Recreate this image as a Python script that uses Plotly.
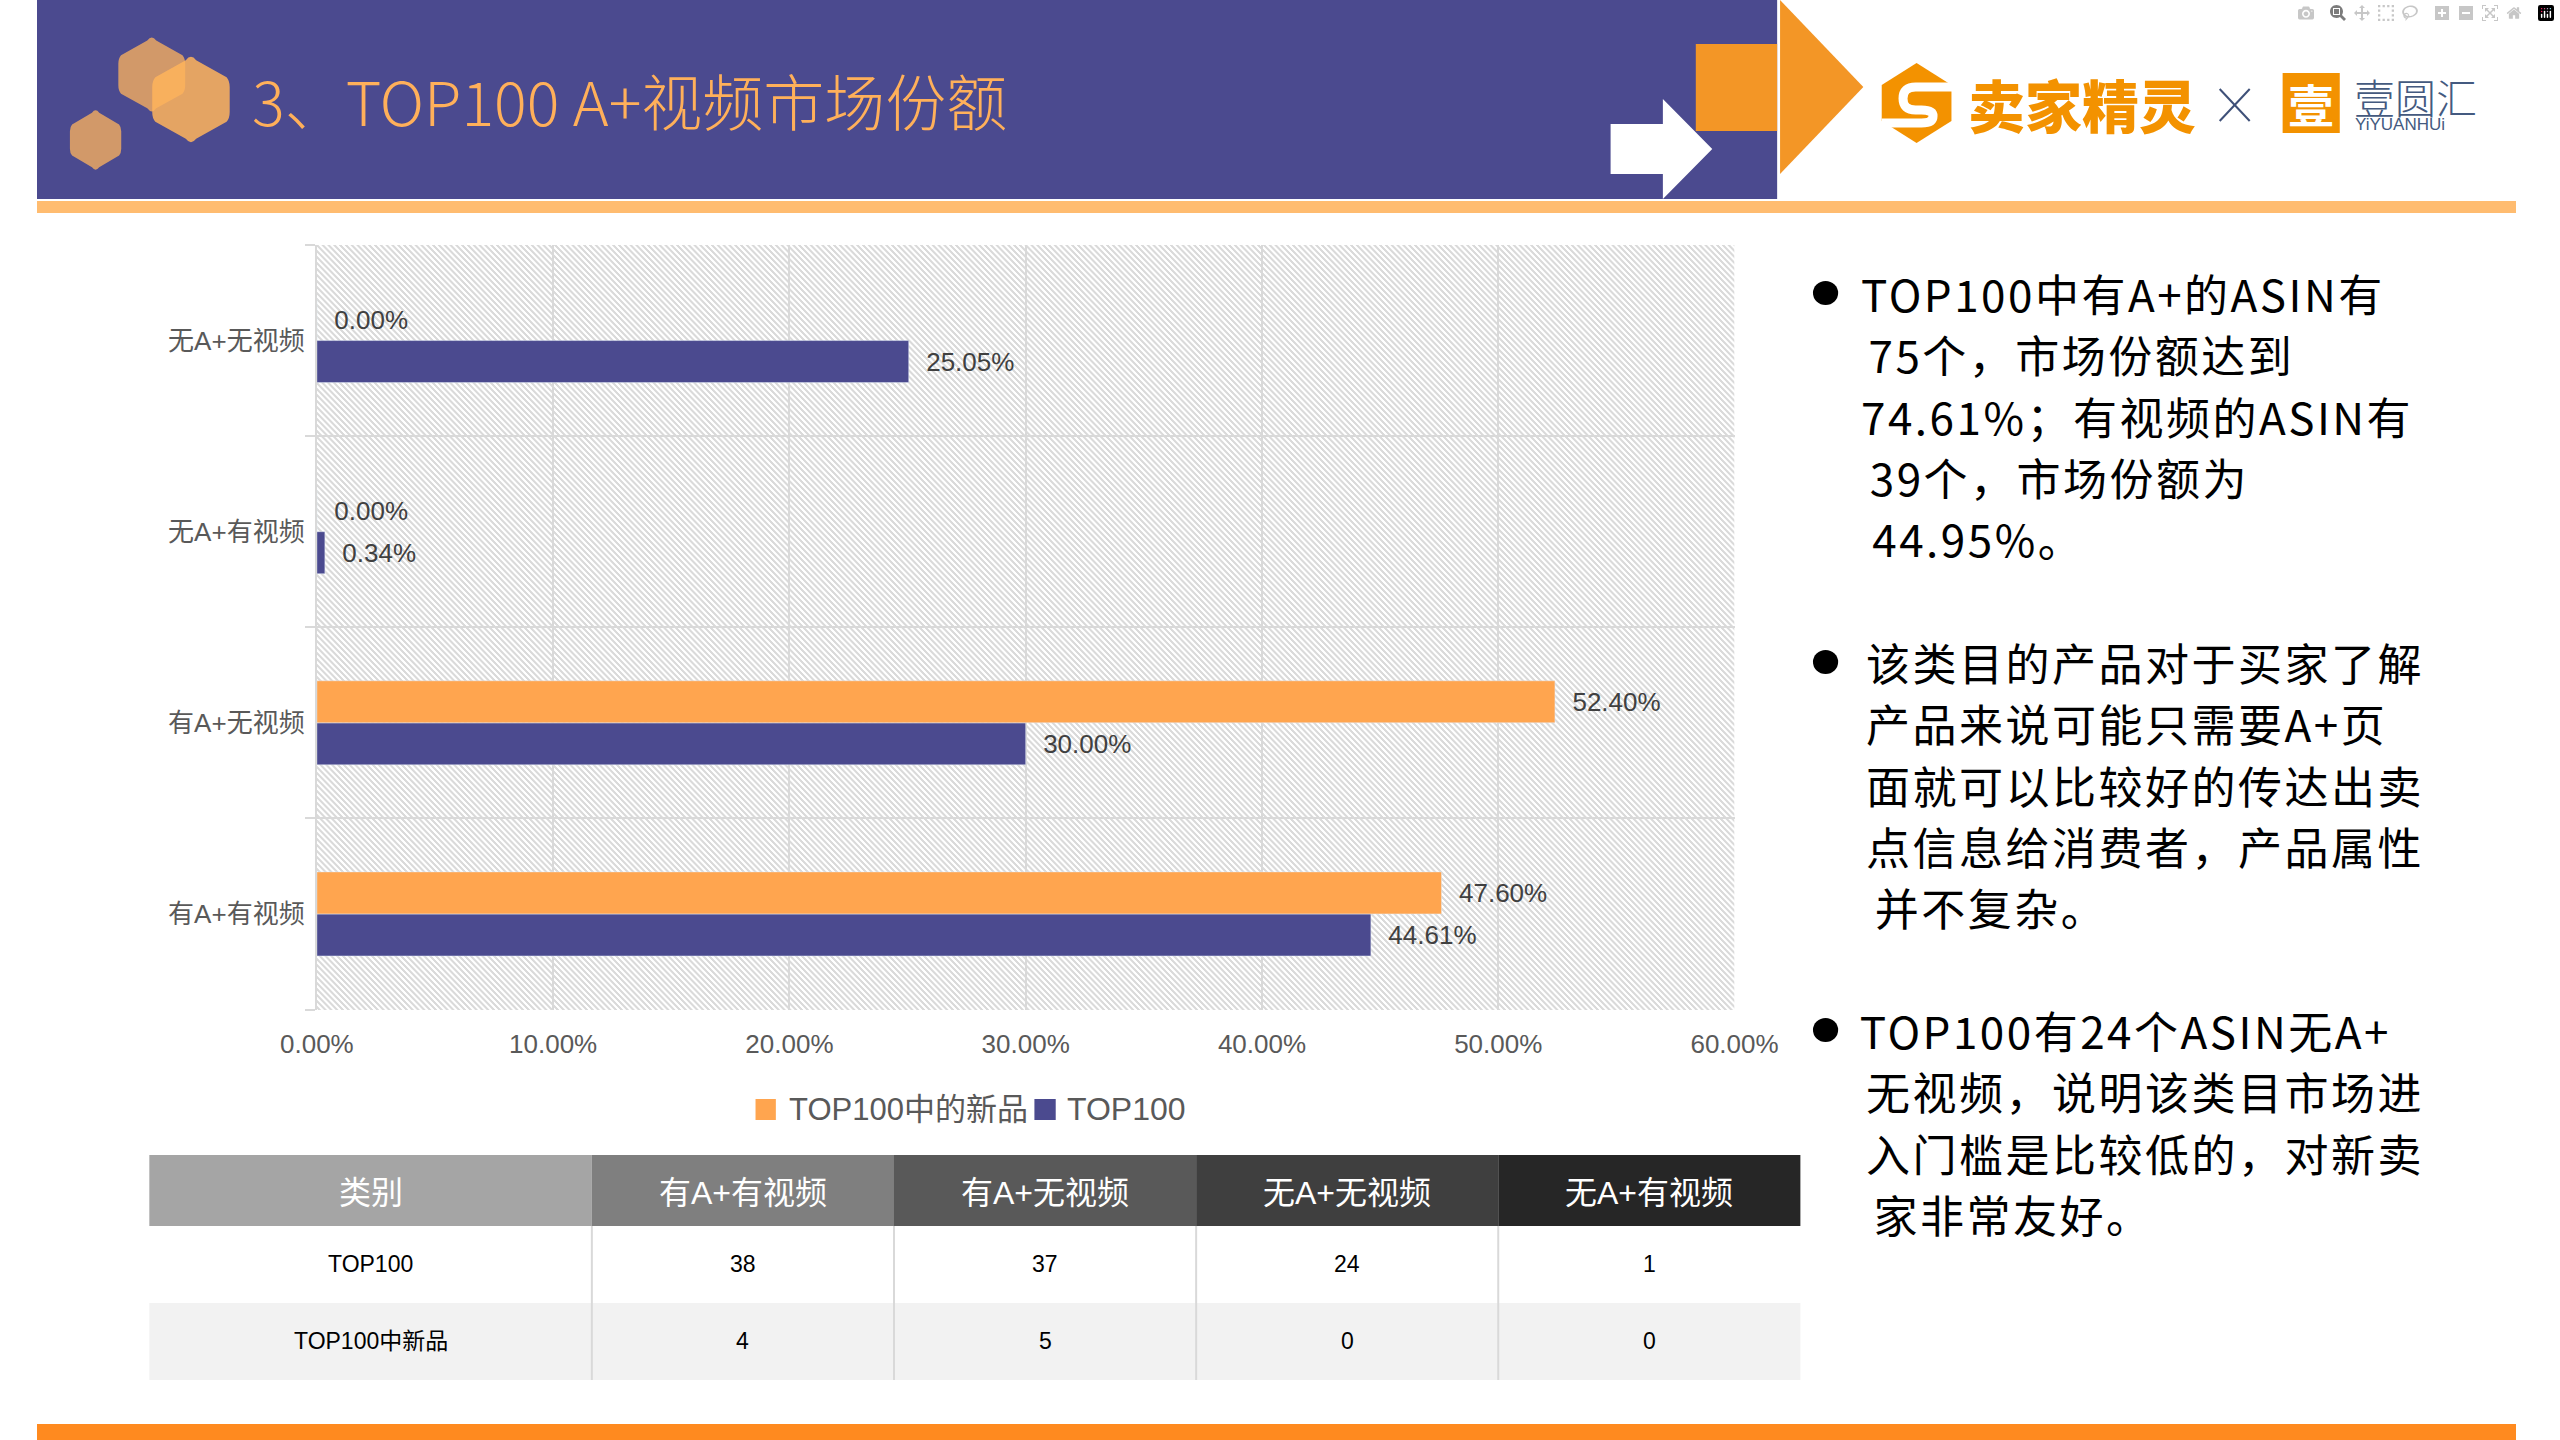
import base64
import plotly.graph_objects as go

W, H = 2560, 1440

# chart data
categories = ["有A+有视频", "有A+无视频", "无A+有视频", "无A+无视频"]
top100 = [44.61, 30.00, 0.34, 25.05]
top100_new = [47.60, 52.40, 0.00, 0.00]
legend_names = ["TOP100中的新品", "TOP100"]

# table under the chart
table_header = ["类别", "有A+有视频", "有A+无视频", "无A+无视频", "无A+有视频"]
table_rows = [["TOP100", "38", "37", "24", "1"],
              ["TOP100中新品", "4", "5", "0", "0"]]
header_colors = ["#A5A5A5", "#7F7F7F", "#595959", "#3F3F3F", "#262626"]
column_edges = [116, 573, 885, 1197, 1509, 1821]
row_edges = [1155, 1226, 1303, 1380]

title_text = "3、TOP100 A+视频市场份额"
notes = [
    ["TOP100中有A+的ASIN有", "75个，市场份额达到", "74.61%；有视频的ASIN有", "39个，市场份额为", "44.95%。"],
    ["该类目的产品对于买家了解", "产品来说可能只需要A+页", "面就可以比较好的传达出卖", "点信息给消费者，产品属性", "并不复杂。"],
    ["TOP100有24个ASIN无A+", "无视频，说明该类目市场进", "入门槛是比较低的，对新卖", "家非常友好。"],
]
note_tops = [293, 662, 1030]

NAVY = "#4B4A8F"
ORANGE = "#FFA54F"
LOGO = "#F39200"
CJK = "Noto Sans CJK SC"
SANS = "Liberation Sans, Noto Sans CJK SC"


def px(x):
    return x / W


def py(y):
    return 1 - y / H


def rect(x0, y0, x1, y1, color, **kw):
    return dict(type="rect", xref="paper", yref="paper", x0=px(x0), x1=px(x1), y0=py(y0), y1=py(y1),
                fillcolor=color, line_width=0, **kw)


def path(pts, color, **kw):
    # pixel coordinates to a paper coordinate svg path
    d = "M" + "L".join(f"{px(x):.5f},{py(y):.5f}" for x, y in pts) + "Z"
    return dict(type="path", xref="paper", yref="paper", path=d, fillcolor=color, line_width=0, **kw)


def hexagon(x0, y0, x1, y1, color, opacity):
    cx = (x0 + x1) / 2
    h = y1 - y0
    r = 0.06 * h
    w = x1 - x0
    d = (f"M{px(cx - r):.5f},{py(y0 + r):.5f}"
         f"Q{px(cx):.5f},{py(y0 - r * .3):.5f} {px(cx + r):.5f},{py(y0 + r):.5f}"
         f"L{px(x1 - r * .6):.5f},{py(y0 + .25 * h):.5f}"
         f"Q{px(x1):.5f},{py(y0 + .29 * h):.5f} {px(x1):.5f},{py(y0 + .36 * h):.5f}"
         f"L{px(x1):.5f},{py(y1 - .36 * h):.5f}"
         f"Q{px(x1):.5f},{py(y1 - .29 * h):.5f} {px(x1 - r * .6):.5f},{py(y1 - .25 * h):.5f}"
         f"L{px(cx + r):.5f},{py(y1 - r):.5f}"
         f"Q{px(cx):.5f},{py(y1 + r * .3):.5f} {px(cx - r):.5f},{py(y1 - r):.5f}"
         f"L{px(x0 + r * .6):.5f},{py(y1 - .25 * h):.5f}"
         f"Q{px(x0):.5f},{py(y1 - .29 * h):.5f} {px(x0):.5f},{py(y1 - .36 * h):.5f}"
         f"L{px(x0):.5f},{py(y0 + .36 * h):.5f}"
         f"Q{px(x0):.5f},{py(y0 + .29 * h):.5f} {px(x0 + r * .6):.5f},{py(y0 + .25 * h):.5f}Z")
    return dict(type="path", xref="paper", yref="paper", path=d, fillcolor=color, opacity=opacity, line_width=0)


def label(x, y, text, size, color, anchor="left", family=CJK, **font):
    return dict(xref="paper", yref="paper", x=px(x), y=py(y), text=text, showarrow=False, xanchor=anchor,
                yanchor="middle", font=dict(family=family, size=size, color=color, **font))


fig = go.Figure()

# navy first so that it sits below the orange bar in each group
fig.add_trace(go.Bar(y=categories, x=top100, name=legend_names[1], orientation="h", marker_color=NAVY,
                     text=[f"\u00a0\u00a0{v:.2f}%" for v in top100], textposition="outside",
                     cliponaxis=False, constraintext="none", textfont=dict(family=SANS, size=26, color="#404040")))
fig.add_trace(go.Bar(y=categories, x=top100_new, name=legend_names[0], orientation="h", marker_color=ORANGE,
                     text=[f"\u00a0\u00a0{v:.2f}%" for v in top100_new], textposition="outside",
                     cliponaxis=False, constraintext="none", textfont=dict(family=SANS, size=26, color="#404040")))

shapes = [
    # header
    rect(0, 0, 1797, 199, NAVY),
    rect(0, 201, W, 213, "#FFBC70"),
    rect(0, 1424, W, H, "#FF8A1F"),
    hexagon(84, 36, 153, 113, "#FFB45C", 0.75),
    hexagon(119, 55, 199, 144, "#FFB45C", 0.85),
    hexagon(34, 109, 87, 171, "#FFB45C", 0.75),
    path([(1625, 124), (1679, 124), (1679, 99), (1730, 149), (1679, 199), (1679, 174), (1625, 174)], "#FFFFFF"),
    rect(1713, 44, 1797, 131, "#F39626"),
    path([(1800, 0), (1886, 87), (1800, 174)], "#F39626"),
    # 卖家精灵 mark
    path([(1941, 63), (1977, 85), (1977, 121), (1941, 143), (1905, 121), (1905, 85)], LOGO),
    dict(type="path", xref="paper", yref="paper", line=dict(color="#FFFFFF", width=9),
         path=(f"M{px(1980):.5f},{py(87):.5f}L{px(1940):.5f},{py(87):.5f}"
               f"Q{px(1927):.5f},{py(87):.5f} {px(1927):.5f},{py(98.5):.5f}"
               f"Q{px(1927):.5f},{py(110):.5f} {px(1940):.5f},{py(110):.5f}"
               f"L{px(1946):.5f},{py(110):.5f}"
               f"Q{px(1958):.5f},{py(110):.5f} {px(1958):.5f},{py(116):.5f}"
               f"Q{px(1958):.5f},{py(123):.5f} {px(1946):.5f},{py(123):.5f}"
               f"L{px(1905):.5f},{py(123):.5f}")),
    # 壹 mark
    dict(type="rect", xref="paper", yref="paper", x0=px(2319), x1=px(2378), y0=py(73), y1=py(133),
         fillcolor=LOGO, line_width=0),
    # legend swatches
    rect(742, 1099, 763, 1120, ORANGE),
    rect(1030, 1099, 1052, 1120, NAVY),
]
# the x between the logos
for a, b in [((2254, 89), (2285, 121)), ((2285, 89), (2254, 121))]:
    shapes.append(dict(type="line", xref="paper", yref="paper", x0=px(a[0]), y0=py(a[1]), x1=px(b[0]), y1=py(b[1]),
                       line=dict(color="#3E5078", width=2)))

annotations = [
    label(220, 100, title_text, 61, "#FFB05A", weight=300),
    label(1992, 103, "卖家精灵", 57, LOGO, weight=900),
    label(2348.5, 103, "壹", 46, "#FFFFFF", anchor="center", weight=700),
    label(2391, 96, "壹圆汇", 41, "#445A80", weight=300),
    label(2392, 124, "YiYUANHUi", 17, "#445A80", family="Liberation Sans"),
    label(774, 1109, legend_names[0], 31, "#595959", family=SANS),
    label(1062, 1109, legend_names[1], 32, "#595959", family=SANS),
]

# table drawn from the lists above
for i, head in enumerate(table_header):
    x0, x1 = column_edges[i], column_edges[i + 1]
    shapes.append(rect(x0, row_edges[0], x1, row_edges[1], header_colors[i]))
    annotations.append(label((x0 + x1) / 2, (row_edges[0] + row_edges[1]) / 2 + 2, head, 32, "#FFFFFF",
                             anchor="center", family=SANS))
shapes.append(rect(column_edges[0], row_edges[2], column_edges[-1], row_edges[3], "#F2F2F2"))
for x in column_edges[1:-1]:
    shapes.append(dict(type="line", xref="paper", yref="paper", x0=px(x), x1=px(x), y0=py(row_edges[1]), y1=py(row_edges[3]),
                       line=dict(color="#D9D9D9", width=2)))
for r, row in enumerate(table_rows):
    for i, cell in enumerate(row):
        annotations.append(label((column_edges[i] + column_edges[i + 1]) / 2, (row_edges[r + 1] + row_edges[r + 2]) / 2 - 1,
                                 cell, 23, "#000000", anchor="center", family=SANS))

# notes on the right
for top, lines in zip(note_tops, notes):
    shapes.append(dict(type="circle", xref="paper", yref="paper", x0=px(1834), x1=px(1860), y0=py(top + 12), y1=py(top - 12),
                       fillcolor="#000000", line_width=0))
    for n, line in enumerate(lines):
        annotations.append(label(1902, top + n * 61.3, line, 44, "#000000"))

# hatched plot background
tile = ("<svg xmlns='http://www.w3.org/2000/svg' width='1464' height='765'><defs>"
        "<pattern id='h' width='6' height='6' patternUnits='userSpaceOnUse'>"
        "<path d='M0,0L6,6M-3,3L3,9M3,-3L9,3' stroke='#DADADA' stroke-width='1.6' shape-rendering='crispEdges'/>"
        "</pattern></defs><rect width='1464' height='765' fill='url(#h)'/></svg>")
hatch = "data:image/svg+xml;base64," + base64.b64encode(tile.encode()).decode()

fig.update_layout(
    width=W, height=H, margin=dict(l=0, r=0, t=0, b=0), autosize=False,
    paper_bgcolor="#FFFFFF", plot_bgcolor="rgba(0,0,0,0)", showlegend=False,
    barmode="group", bargap=0.56, bargroupgap=0,
    shapes=shapes, annotations=annotations,
    images=[dict(source=hatch, xref="paper", yref="paper", x=px(289), y=py(245), sizex=1464 / W, sizey=765 / H,
                 xanchor="left", yanchor="top", sizing="stretch", layer="below")],
    xaxis=dict(domain=[px(289), px(1753)], range=[0, 60], dtick=10, tickformat=".2f", ticksuffix="%",
               showgrid=True, gridcolor="#D9D9D9", gridwidth=2, zeroline=False, showline=False, ticks="",
               ticklabelstandoff=16, tickfont=dict(family=SANS, size=26, color="#595959")),
    yaxis=dict(domain=[py(1009.5), py(245)], type="category", categoryorder="array", categoryarray=categories,
               showgrid=True, gridcolor="#D9D9D9", gridwidth=2, zeroline=False, tickson="boundaries",
               showline=True, linecolor="#D9D9D9", linewidth=2, ticks="outside", ticklen=10, tickcolor="#D9D9D9",
               tickwidth=2, ticklabelstandoff=5, tickfont=dict(family=SANS, size=26, color="#595959")),
)

# drop the page margin and space out the note lines as in the slide
post = """
document.body.style.margin = '0';
document.querySelectorAll('.annotation-text').forEach(function (t) {
  if (t.style.fontSize === '44px') { t.style.letterSpacing = '2.5px'; }
});
"""
fig.write_html("out.html", post_script=post)
